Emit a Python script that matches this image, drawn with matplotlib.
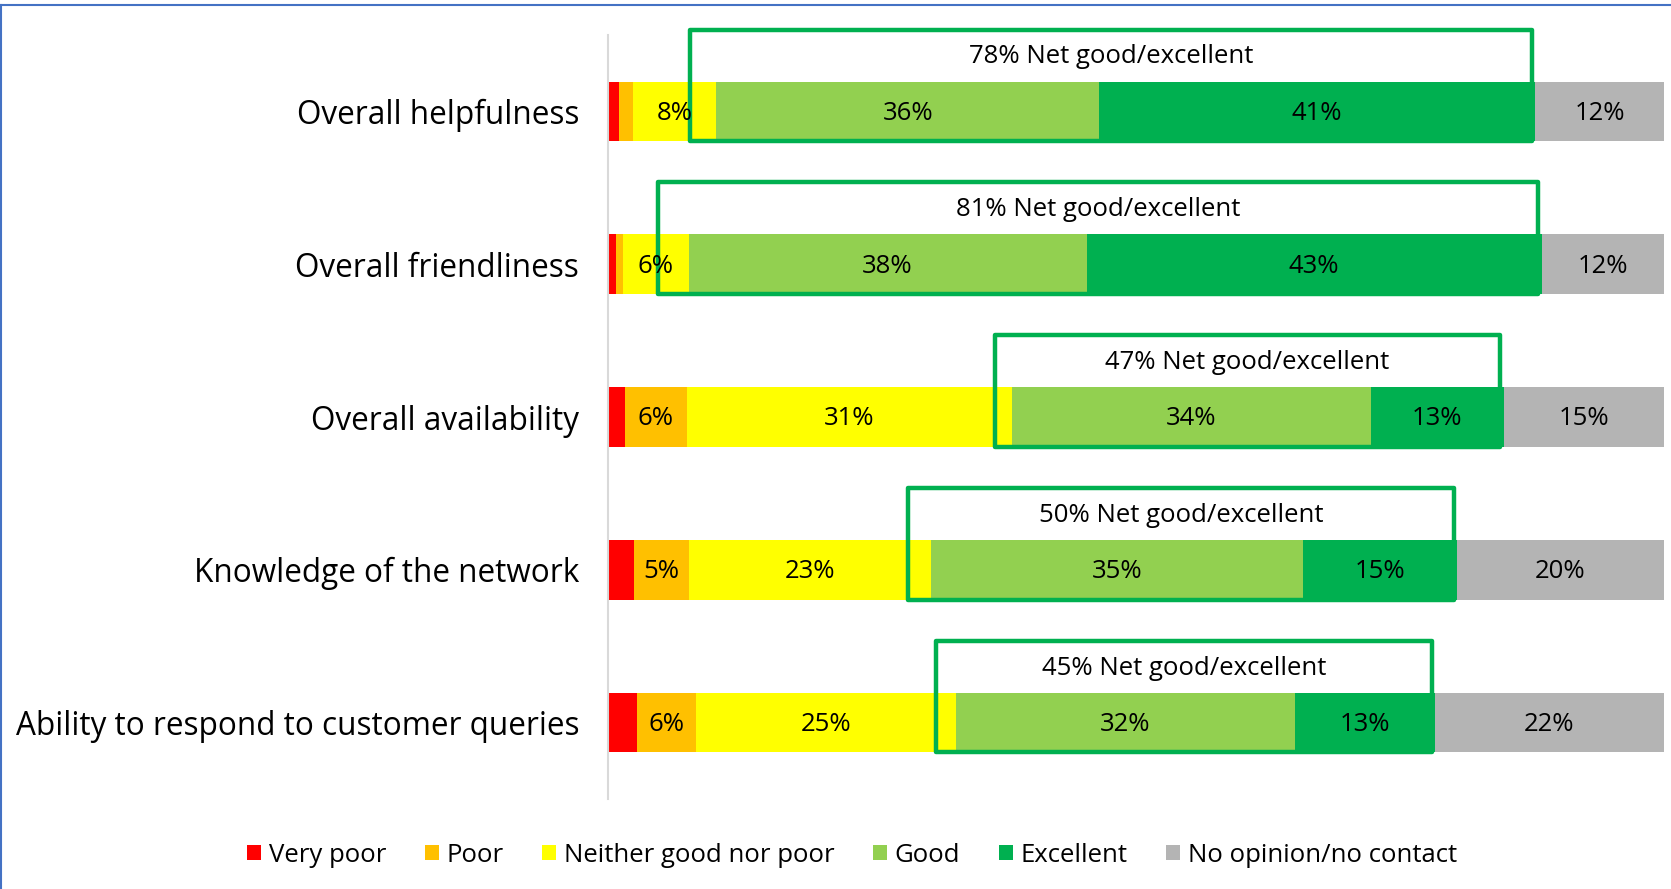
import matplotlib
matplotlib.use('Agg')
import matplotlib.pyplot as plt
from matplotlib.patches import Rectangle, Patch
from matplotlib.lines import Line2D
import numpy as np

plt.rcParams['font.family'] = ['Open Sans', 'DejaVu Sans']

categories = ['Overall helpfulness', 'Overall friendliness', 'Overall availability',
              'Knowledge of the network', 'Ability to respond to customer queries']
levels = ['Very poor', 'Poor', 'Neither good nor poor', 'Good', 'Excellent',
          'No opinion/no contact']

# share of respondents (%) per rating level, one value per category
very_poor = [1.0, 0.7, 1.6, 2.4, 2.7]
poor = [1.3, 0.7, 5.8, 5.2, 5.6]
neither = [7.9, 6.2, 30.8, 23.0, 24.6]
good = [36.3, 37.7, 34.0, 35.2, 32.1]
excellent = [41.3, 43.1, 12.6, 14.6, 13.3]
no_opinion = [12.2, 11.6, 15.2, 19.6, 21.7]

colors = ['#FF0000', '#FFC000', '#FFFF00', '#92D050', '#00B050', '#B4B4B4']
box_green = '#00B050'
bar_h = 0.39
box_pad_left = [2.5, 2.9, 1.6, 2.2, 1.9]   # how far each net box starts left of "Good"
box_pad_right = 0.3
box_above = 0.34

series = np.array([very_poor, poor, neither, good, excellent, no_opinion])
y = np.arange(len(categories))

fig = plt.figure(figsize=(16.71, 8.89), dpi=100)
ax = fig.add_axes([0.3641, 0.1012, 0.6317, 0.8594])

left = np.zeros(len(categories))
for vals, col in zip(series, colors):
    ax.barh(y, vals, left=left, height=bar_h, color=col, zorder=2)
    for yi, (l, v) in enumerate(zip(left, vals)):
        if v >= 4:
            ax.text(l + v / 2, yi + 0.012, f"{v:.0f}%", ha='center', va='center',
                    fontsize=18.5, color='black', zorder=5)
    left = left + vals

# net good/excellent boxes
good_start = series[:3].sum(axis=0)
net = np.array(good) + np.array(excellent)
for yi in range(len(categories)):
    x0 = good_start[yi] - box_pad_left[yi]
    x1 = good_start[yi] + net[yi] - box_pad_right
    top = yi - bar_h / 2 - box_above
    bottom = yi + bar_h / 2
    ax.add_patch(Rectangle((x0, top), x1 - x0, bottom - top, fill=False,
                           edgecolor=box_green, lw=3.2, joinstyle='round',
                           zorder=4, clip_on=False))
    ax.text((x0 + x1) / 2, top + box_above / 2 + 0.008,
            f"{net[yi]:.0f}% Net good/excellent",
            ha='center', va='center', fontsize=18.5, zorder=5)

ax.set_xlim(0, 100)
ax.set_ylim(len(categories) - 0.5, -0.5)
ax.set_yticks(y)
ax.set_yticklabels(categories, fontsize=22.7)
ax.tick_params(axis='y', length=0, pad=21)
ax.set_xticks([])
for side in ['top', 'right', 'bottom']:
    ax.spines[side].set_visible(False)
ax.spines['left'].set_color('#D9D9D9')
ax.spines['left'].set_linewidth(1.5)

handles = [Patch(facecolor=c, label=l) for c, l in zip(colors, levels)]
fig.legend(handles=handles, loc='center', bbox_to_anchor=(852 / 1671, 1 - 855 / 889),
           ncol=6, frameon=False, fontsize=18.5, handlelength=0.55, handleheight=0.55,
           handletextpad=0.3, columnspacing=1.5)

# outer frame lines
top_y = 1 - 5 / 889
fig.add_artist(Line2D([0, 1], [top_y, top_y], color='#4472C4', lw=1.5,
                      transform=fig.transFigure))
fig.add_artist(Line2D([0.6 / 1671, 0.6 / 1671], [0, top_y], color='#4472C4', lw=1.5,
                      transform=fig.transFigure))

fig.savefig('out.png', dpi=100)
